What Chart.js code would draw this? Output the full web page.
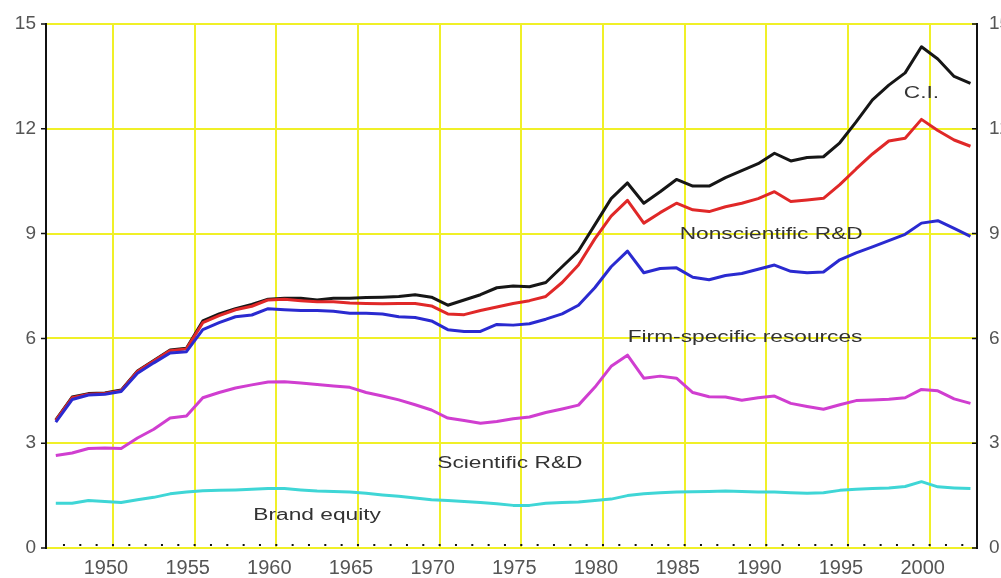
<!DOCTYPE html>
<html>
<head>
<meta charset="utf-8">
<script src="https://cdn.jsdelivr.net/npm/chart.js@4.4.0/dist/chart.umd.min.js"></script>
<style>
  body { margin: 0; overflow: hidden; background: #fff; }
  #wrap { width: 1001px; height: 578px; overflow: hidden; position: relative; }
  canvas { position: absolute; left: 0; top: 0; }
</style>
</head>
<body>
<div id="wrap"><canvas id="myChart" width="1030" height="578"></canvas></div>
<script>
// annual values, 1947-2003
var years = [];
for (let y = 1947; y <= 2003; y++) years.push(y);

var ciTotal = [3.67, 4.32, 4.42, 4.44, 4.52, 5.07, 5.37, 5.67, 5.72, 6.5,
  6.7, 6.85, 6.97, 7.12, 7.15, 7.15, 7.1, 7.15, 7.15, 7.17,
  7.18, 7.2, 7.25, 7.18, 6.95, 7.1, 7.25, 7.45, 7.5, 7.48,
  7.6, 8.05, 8.5, 9.25, 10.0, 10.45, 9.87, 10.2, 10.55, 10.36,
  10.36, 10.6, 10.8, 11.0, 11.3, 11.08, 11.18, 11.2, 11.6, 12.2,
  12.83, 13.25, 13.6, 14.35, 14.0, 13.5, 13.3];

var nonsciRD = [3.65, 4.3, 4.4, 4.42, 4.5, 5.05, 5.35, 5.65, 5.7, 6.45,
  6.65, 6.82, 6.92, 7.1, 7.12, 7.08, 7.05, 7.05, 7.01, 7.0,
  6.99, 7.0, 7.0, 6.93, 6.7, 6.68, 6.8, 6.9, 7.0, 7.08,
  7.2, 7.6, 8.1, 8.85, 9.5, 9.95, 9.3, 9.6, 9.87, 9.68,
  9.63, 9.77, 9.87, 10.0, 10.2, 9.92, 9.96, 10.01, 10.4, 10.85,
  11.28, 11.65, 11.73, 12.27, 11.95, 11.68, 11.5];

var firmRes = [3.6, 4.25, 4.38, 4.4, 4.48, 5.0, 5.3, 5.58, 5.62, 6.25,
  6.45, 6.62, 6.67, 6.85, 6.82, 6.8, 6.8, 6.78, 6.72, 6.72,
  6.7, 6.62, 6.6, 6.5, 6.25, 6.2, 6.2, 6.4, 6.38, 6.42,
  6.55, 6.7, 6.95, 7.45, 8.05, 8.5, 7.88, 8.0, 8.02, 7.75,
  7.68, 7.8, 7.86, 7.98, 8.1, 7.92, 7.88, 7.9, 8.25, 8.45,
  8.62, 8.8, 8.98, 9.3, 9.37, 9.15, 8.92];

var sciRD = [2.65, 2.72, 2.85, 2.86, 2.85, 3.15, 3.4, 3.72, 3.78, 4.3,
  4.45, 4.58, 4.67, 4.75, 4.76, 4.72, 4.68, 4.64, 4.6, 4.45,
  4.35, 4.24, 4.1, 3.95, 3.72, 3.65, 3.57, 3.62, 3.7, 3.75,
  3.88, 3.98, 4.09, 4.6, 5.2, 5.52, 4.86, 4.92, 4.86, 4.45,
  4.33, 4.32, 4.23, 4.3, 4.35, 4.14, 4.05, 3.97, 4.1, 4.22,
  4.24, 4.26, 4.3, 4.54, 4.5, 4.27, 4.14];

var brandEq = [1.28, 1.28, 1.36, 1.33, 1.3, 1.38, 1.45, 1.55, 1.6, 1.64,
  1.65, 1.66, 1.68, 1.7, 1.7, 1.66, 1.63, 1.62, 1.6, 1.57,
  1.52, 1.48, 1.43, 1.38, 1.36, 1.33, 1.3, 1.27, 1.22, 1.22,
  1.28, 1.3, 1.32, 1.36, 1.4, 1.5, 1.55, 1.58, 1.6, 1.61,
  1.62, 1.63, 1.62, 1.6, 1.6, 1.58, 1.57, 1.58, 1.65, 1.68,
  1.7, 1.72, 1.76, 1.9, 1.75, 1.72, 1.7];

var xTicks = [1950, 1955, 1960, 1965, 1970, 1975, 1980, 1985, 1990, 1995, 2000];
var yTicks = [0, 3, 6, 9, 12, 15];

// line labels, placed in data units
var notes = [
  { text: "C.I.", x: 1999.5, y: 13.0 },
  { text: "Nonscientific R&D", x: 1990.3, y: 8.96 },
  { text: "Firm-specific resources", x: 1988.7, y: 6.01 },
  { text: "Scientific R&D", x: 1974.3, y: 2.43 },
  { text: "Brand equity", x: 1962.5, y: 0.94 },
];

const YELLOW = "rgb(240,240,40)";

function pts(vals) {
  // plotted at mid-year
  return years.map((yr, i) => ({ x: yr - 0.5, y: vals[i] }));
}

const extras = {
  id: "extras",
  afterDatasetsDraw(chart) {
    const ctx = chart.ctx;
    const xs = chart.scales.x;
    const ys = chart.scales.y;
    const area = chart.chartArea;
    ctx.save();
    // year dots along the bottom
    ctx.fillStyle = "#111";
    for (let yr = 1947; yr <= 2002; yr++) {
      const px = xs.getPixelForValue(yr);
      ctx.fillRect(px - 1, ys.getPixelForValue(0) - 4, 2, 2);
    }
    // small tick marks on both axes
    ctx.strokeStyle = "#111";
    ctx.lineWidth = 1.5;
    yTicks.forEach((v) => {
      const py = ys.getPixelForValue(v);
      ctx.beginPath();
      ctx.moveTo(area.left - 5, py);
      ctx.lineTo(area.left, py);
      ctx.moveTo(area.right - 5, py);
      ctx.lineTo(area.right, py);
      ctx.stroke();
    });
    // labels
    ctx.fillStyle = "#333";
    ctx.font = '16px "Liberation Sans", Arial, sans-serif';
    ctx.textAlign = "center";
    ctx.textBaseline = "middle";
    notes.forEach((n) => {
      ctx.save();
      ctx.translate(xs.getPixelForValue(n.x), ys.getPixelForValue(n.y));
      ctx.scale(1.42, 1);
      ctx.fillText(n.text, 0, 0);
      ctx.restore();
    });
    ctx.restore();
  },
};

function initChart() {
  const ctx = document.getElementById("myChart").getContext("2d");
  const line = (label, vals, color, order) => ({
    label: label,
    data: pts(vals),
    borderColor: color,
    borderWidth: 3,
    pointRadius: 0,
    tension: 0,
    fill: false,
    borderJoinStyle: "round",
    order: order,
  });
  const tickFont = { family: '"Liberation Sans", Arial, sans-serif', size: 19 };
  new Chart(ctx, {
    type: "line",
    data: {
      datasets: [
        line("C.I.", ciTotal, "#161616", 5),
        line("Nonscientific R&D", nonsciRD, "#e02828", 4),
        line("Firm-specific resources", firmRes, "#2a2ad0", 3),
        line("Scientific R&D", sciRD, "#d03ed0", 2),
        line("Brand equity", brandEq, "#3fd6d6", 1),
      ],
    },
    options: {
      responsive: false,
      animation: false,
      devicePixelRatio: 1,
      layout: { padding: { top: 24, left: 0, right: 0, bottom: 0 } },
      plugins: { legend: { display: false }, tooltip: { enabled: false } },
      scales: {
        x: {
          type: "linear",
          min: 1945.9,
          max: 2002.9,
          afterBuildTicks: (s) => { s.ticks = xTicks.map((v) => ({ value: v })); },
          afterFit: (s) => { s.height = 30; },
          ticks: {
            callback: (v) => String(v),
            font: { family: '"Liberation Sans", Arial, sans-serif', size: 20 },
            color: "#555",
            padding: 8,
            labelOffset: -7,
            maxRotation: 0,
          },
          grid: { color: YELLOW, lineWidth: 2, drawTicks: false },
          border: { display: false },
        },
        y: {
          position: "left",
          min: 0,
          max: 15,
          afterBuildTicks: (s) => { s.ticks = yTicks.map((v) => ({ value: v })); },
          afterFit: (s) => { s.width = 46; },
          ticks: { font: tickFont, color: "#555", padding: 10 },
          grid: { color: YELLOW, lineWidth: 2, drawTicks: false },
          border: { color: "#111", width: 2 },
        },
        y2: {
          position: "right",
          min: 0,
          max: 15,
          afterBuildTicks: (s) => { s.ticks = yTicks.map((v) => ({ value: v })); },
          afterFit: (s) => { s.width = 53; },
          ticks: { font: tickFont, color: "#555", padding: 12 },
          grid: { drawOnChartArea: false, drawTicks: false },
          border: { color: "#111", width: 2 },
        },
      },
    },
    plugins: [extras],
  });
}

initChart();
</script>
</body>
</html>
